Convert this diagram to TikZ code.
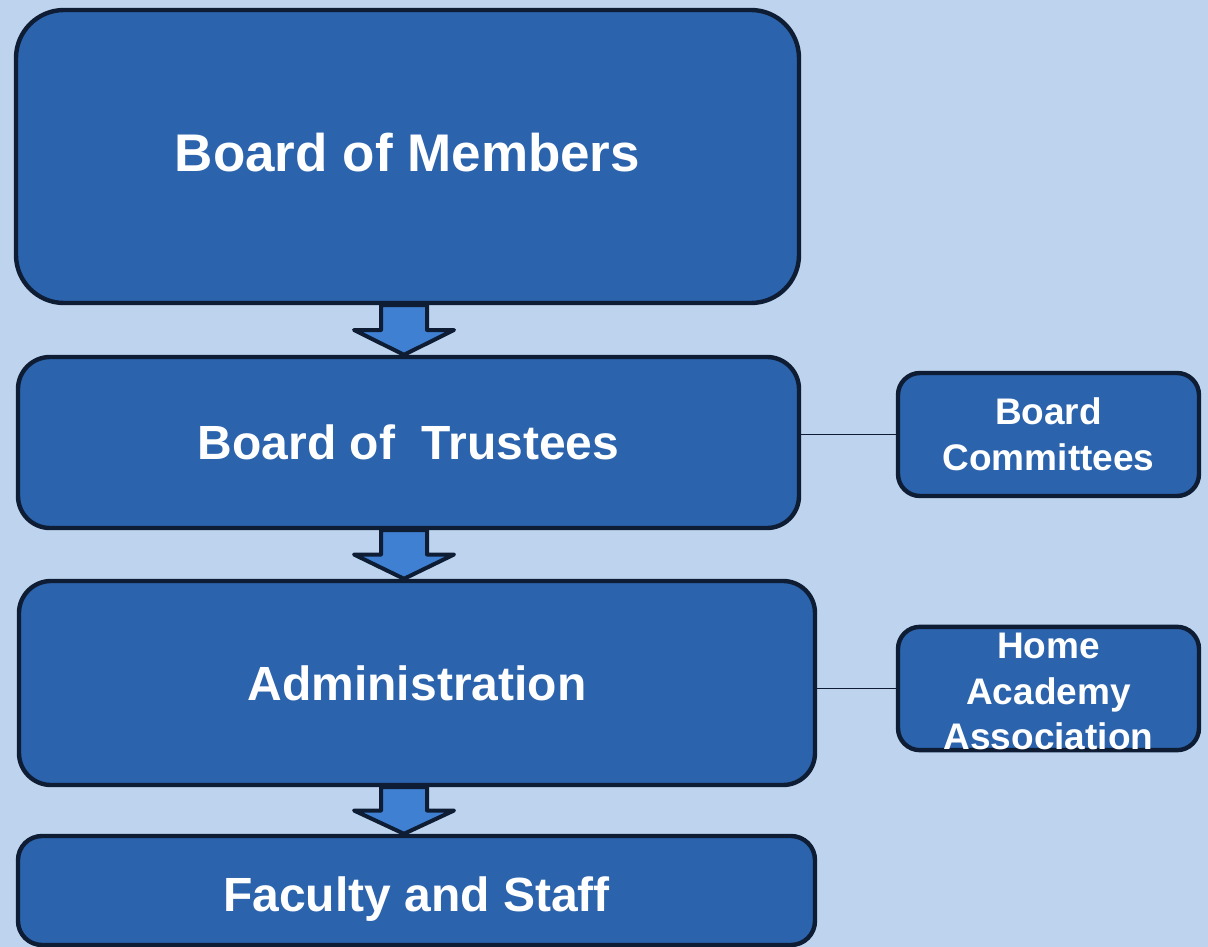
\documentclass[tikz,border=0pt]{standalone}
\usepackage{fontspec}
\setmainfont{Liberation Sans}
\usepackage{tikz}
\usetikzlibrary{calc}

\definecolor{pagebg}{HTML}{BED3EE}
\definecolor{boxfill}{HTML}{2B63AD}
\definecolor{boxline}{HTML}{0E1D33}
\definecolor{arrowfill}{HTML}{3F80D3}

\tikzset{
  box/.style={draw=boxline, fill=boxfill, line width=4.4pt, rounded corners=32pt,
    inner sep=0pt, text=white, font=\bfseries\fontsize{48}{56}\selectfont},
  sidebox/.style={box, rounded corners=22pt, align=center,
    minimum width=301pt, minimum height=123pt,
    font=\bfseries\fontsize{37}{45.5}\selectfont},
  blockarrow/.style={draw=boxline, fill=arrowfill, line width=4pt, line join=round},
  link/.style={draw=boxline, line width=1.8pt}
}

\begin{document}
\begin{tikzpicture}[x=1pt,y=-1pt]

  \fill[pagebg] (0,0) rectangle (1208,947);
  \clip (0,0) rectangle (1208,947);

  \node[box] (members) at (407.5,156.5) [minimum width=783pt, minimum height=293pt,
    rounded corners=48pt, text depth=7.7pt,
    font=\bfseries\fontsize{53}{60}\selectfont] {Board of Members};
  \node[box] (trustees) at (408.5,442.5) [minimum width=781pt, minimum height=171pt] {Board of\ \ Trustees};
  \node[box] (admin) at (417,683) [minimum width=796pt, minimum height=204pt] {Administration};
  \node[box] (faculty) at (416.5,890.5) [minimum width=797pt, minimum height=109pt,
    rounded corners=24pt, text height=41pt, text depth=0pt] {Faculty and Staff};

  \node[sidebox] (committees) at (1048.5,434.5) {Board\\Committees};
  \node[sidebox] (haa) at (1048.5,688.5) {\rule{0pt}{32pt}Home\\Academy\\Association};

  \path[link] (committees.west) edge (committees.west -| trustees.east);
  \path[link] (haa.west) edge (haa.west -| admin.east);

  % block arrows between the levels
  \foreach \a/\b in {members/trustees, trustees/admin, admin/faculty} {
    \draw[blockarrow] let \p1=(\a.south), \p2=(\b.north), \n1={0.5*(\y1+\y2)} in
      (381,\y1) -- (427,\y1) -- (427,\n1) -- (454,\n1) -- (404,\y2)
      -- (354,\n1) -- (381,\n1) -- cycle;
  }

\end{tikzpicture}
\end{document}
